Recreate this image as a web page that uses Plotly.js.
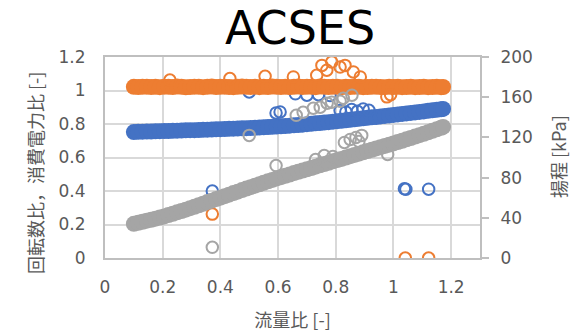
<!DOCTYPE html>
<html>
<head>
<meta charset="utf-8">
<script src="https://cdn.plot.ly/plotly-3.0.1.min.js"></script>
<style>
  html, body { margin: 0; padding: 0; background: #ffffff; }
  #chart { width: 576px; height: 334px; }
</style>
</head>
<body>
<div id="chart"></div>
<script>
// Flow ratio samples along the continuous operating curve
const flowBand = [
  0.100, 0.115, 0.130, 0.145, 0.160, 0.175, 0.190, 0.205, 0.220, 0.235,
  0.250, 0.265, 0.280, 0.295, 0.310, 0.325, 0.340, 0.355, 0.370, 0.385,
  0.400, 0.415, 0.430, 0.445, 0.460, 0.475, 0.490, 0.505, 0.520, 0.535,
  0.550, 0.565, 0.580, 0.595, 0.610, 0.625, 0.640, 0.655, 0.670, 0.685,
  0.700, 0.715, 0.730, 0.745, 0.760, 0.775, 0.790, 0.805, 0.820, 0.835,
  0.850, 0.865, 0.880, 0.895, 0.910, 0.925, 0.940, 0.955, 0.970, 0.985,
  1.000, 1.015, 1.030, 1.045, 1.060, 1.075, 1.090, 1.105, 1.120, 1.135,
  1.150, 1.165, 1.172
];

// Rotation speed ratio [-] on the curve
const speedBand = [
  0.752, 0.753, 0.754, 0.755, 0.755, 0.756, 0.757, 0.758, 0.758, 0.759,
  0.760, 0.761, 0.762, 0.763, 0.763, 0.764, 0.765, 0.766, 0.767, 0.768,
  0.769, 0.770, 0.771, 0.772, 0.773, 0.774, 0.775, 0.776, 0.777, 0.779,
  0.780, 0.782, 0.783, 0.785, 0.786, 0.788, 0.790, 0.792, 0.794, 0.796,
  0.799, 0.801, 0.804, 0.806, 0.809, 0.811, 0.814, 0.817, 0.819, 0.822,
  0.825, 0.828, 0.831, 0.834, 0.837, 0.840, 0.842, 0.845, 0.848, 0.851,
  0.854, 0.857, 0.860, 0.863, 0.866, 0.869, 0.872, 0.875, 0.879, 0.882,
  0.885, 0.888, 0.890
];

// Power consumption ratio [-] on the curve
const powerBand = [
  1.022, 1.021, 1.022, 1.023, 1.021, 1.022, 1.020, 1.023, 1.022, 1.021,
  1.024, 1.022, 1.019, 1.021, 1.023, 1.022, 1.020, 1.022, 1.024, 1.021,
  1.022, 1.023, 1.021, 1.020, 1.022, 1.024, 1.022, 1.021, 1.023, 1.020,
  1.022, 1.021, 1.024, 1.022, 1.021, 1.023, 1.020, 1.022, 1.024, 1.021,
  1.023, 1.022, 1.020, 1.024, 1.022, 1.021, 1.023, 1.022, 1.020, 1.022,
  1.021, 1.023, 1.022, 1.020, 1.021, 1.022, 1.023, 1.021, 1.020, 1.022,
  1.021, 1.022, 1.020, 1.021, 1.022, 1.020, 1.021, 1.022, 1.020, 1.021,
  1.022, 1.020, 1.021
];

// Pump head [kPa] on the curve
const headBand = [
  34.0, 35.0, 36.1, 37.1, 38.0, 39.1, 40.2, 41.4, 42.8, 44.0,
  45.4, 46.8, 48.1, 49.6, 51.0, 52.5, 54.0, 55.6, 57.0, 58.6,
  60.0, 61.5, 63.0, 64.6, 66.0, 67.6, 69.1, 70.5, 72.0, 73.4,
  74.9, 76.3, 77.7, 79.2, 80.4, 81.8, 83.0, 84.5, 85.8, 87.0,
  88.2, 89.5, 90.9, 92.2, 93.5, 94.8, 96.2, 97.4, 98.6, 100.0,
  101.3, 102.6, 103.8, 105.1, 106.4, 107.7, 109.0, 110.3, 111.5, 112.8,
  114.0, 115.4, 116.7, 118.1, 119.4, 120.8, 122.2, 123.6, 125.0, 126.6,
  128.0, 129.6, 130.4
];

// Scattered samples off the curve
const speedPtsX = [0.372, 1.038, 1.043, 1.122, 0.593, 0.607, 0.500, 0.660, 0.700, 0.740, 0.780,
                   0.815, 0.835, 0.855, 0.875, 0.895, 0.915];
const speedPtsY = [0.400, 0.413, 0.410, 0.411, 0.866, 0.872, 0.991, 0.980, 0.972, 0.975, 0.970,
                   0.880, 0.872, 0.886, 0.876, 0.890, 0.882];

const powerPtsX = [0.372, 1.041, 1.122, 0.225, 0.433, 0.555, 0.653, 0.734, 0.752, 0.769, 0.786,
                   0.815, 0.832, 0.861, 0.885, 0.977, 0.990];
const powerPtsY = [0.262, 0.000, 0.000, 1.062, 1.071, 1.085, 1.081, 1.091, 1.150, 1.121, 1.170,
                   1.140, 1.150, 1.111, 1.081, 0.962, 0.975];

const headPtsX = [0.372, 0.500, 0.593, 0.663, 0.687, 0.722, 0.746, 0.770, 0.786, 0.815, 0.826, 0.856,
                  0.730, 0.760, 0.790, 0.830, 0.850, 0.870, 0.880, 0.890, 0.980];
const headPtsY = [10.6, 122, 92, 142, 145, 149, 150, 154, 155, 156, 159, 162,
                  98, 102, 101, 115, 118, 120, 116, 122, 103];

// Tick values / labels
const leftTicks = [0, 0.2, 0.4, 0.6, 0.8, 1, 1.2];
const leftTickText = ['0', '0.2', '0.4', '0.6', '0.8', '1', '1.2'];
const rightTicks = [0, 40, 80, 120, 160, 200];
const xTicks = [0, 0.2, 0.4, 0.6, 0.8, 1, 1.2];
const xTickText = ['0', '0.2', '0.4', '0.6', '0.8', '1', '1.2'];

const BLUE = '#4472C4', ORANGE = '#ED7D31', GRAY = '#A5A5A5';
const FONT = 'DejaVu Sans, "Noto Sans CJK JP", sans-serif';
const CJK = '"Noto Sans CJK JP", sans-serif';

// Densely packed samples merge into a solid band of overlapping markers
function band(x, y, color, axis) {
  return {
    type: 'scatter', mode: 'markers', x: x, y: y, yaxis: axis,
    marker: { symbol: 'circle', size: 16, color: color, line: { width: 0 } },
    hoverinfo: 'skip', showlegend: false
  };
}
function pts(x, y, color, axis) {
  return {
    type: 'scatter', mode: 'markers', x: x, y: y, yaxis: axis,
    marker: { symbol: 'circle-open', size: 11.5, color: color, line: { color: color, width: 2 } },
    hoverinfo: 'skip', showlegend: false
  };
}

const traces = [
  band(flowBand, speedBand, BLUE, 'y'),
  pts(speedPtsX, speedPtsY, BLUE, 'y'),
  band(flowBand, powerBand, ORANGE, 'y'),
  pts(powerPtsX, powerPtsY, ORANGE, 'y'),
  band(flowBand, headBand, GRAY, 'y2'),
  pts(headPtsX, headPtsY, GRAY, 'y2')
];

const layout = {
  width: 576, height: 334,
  margin: { l: 105, r: 96, t: 57, b: 76 },
  paper_bgcolor: '#ffffff', plot_bgcolor: '#ffffff',
  font: { family: FONT, color: '#595959', size: 17 },
  title: {
    text: 'ACSES', font: { family: FONT, size: 46, color: '#000000' },
    x: 300 / 576, xref: 'container', xanchor: 'center',
    y: 1 - 28 / 334, yref: 'container', yanchor: 'middle'
  },
  xaxis: {
    range: [0, 1.3], tickvals: xTicks, ticktext: xTickText,
    showgrid: true, gridcolor: '#D9D9D9', gridwidth: 2,
    showline: true, linecolor: '#BFBFBF', linewidth: 2, mirror: true,
    ticks: '', ticklabelstandoff: 13, zeroline: false,
    tickfont: { size: 17, color: '#595959' },
    title: { text: '流量比 [-]', font: { family: CJK, size: 18, color: '#595959' }, standoff: 18 }
  },
  yaxis: {
    range: [0, 1.2], tickvals: leftTicks, ticktext: leftTickText,
    showgrid: true, gridcolor: '#D9D9D9', gridwidth: 2,
    showline: true, linecolor: '#BFBFBF', linewidth: 2,
    ticks: '', ticklabelstandoff: 14, zeroline: false,
    tickfont: { size: 17, color: '#595959' }
  },
  yaxis2: {
    range: [0, 200], tickvals: rightTicks, overlaying: 'y', side: 'right',
    showgrid: false, zeroline: false,
    showline: true, linecolor: '#BFBFBF', linewidth: 2,
    ticks: 'outside', ticklen: 7, tickwidth: 2, tickcolor: '#BFBFBF',
    ticklabelstandoff: 8,
    tickfont: { size: 17, color: '#595959' }
  },
  annotations: [
    {
      text: '回転数比，消費電力比 [-]', textangle: -90,
      xref: 'paper', yref: 'paper', x: (35 - 105) / 375, y: 1 - (173 - 57) / 201,
      xanchor: 'center', yanchor: 'middle', showarrow: false,
      font: { family: CJK, size: 18, color: '#595959' }
    },
    {
      text: '揚程 [kPa]', textangle: -90,
      xref: 'paper', yref: 'paper', x: (558 - 105) / 375, y: 1 - (157 - 57) / 201,
      xanchor: 'center', yanchor: 'middle', showarrow: false,
      font: { family: CJK, size: 18, color: '#595959' }
    }
  ]
};

Plotly.newPlot('chart', traces, layout, { staticPlot: true, displayModeBar: false });
</script>
</body>
</html>
